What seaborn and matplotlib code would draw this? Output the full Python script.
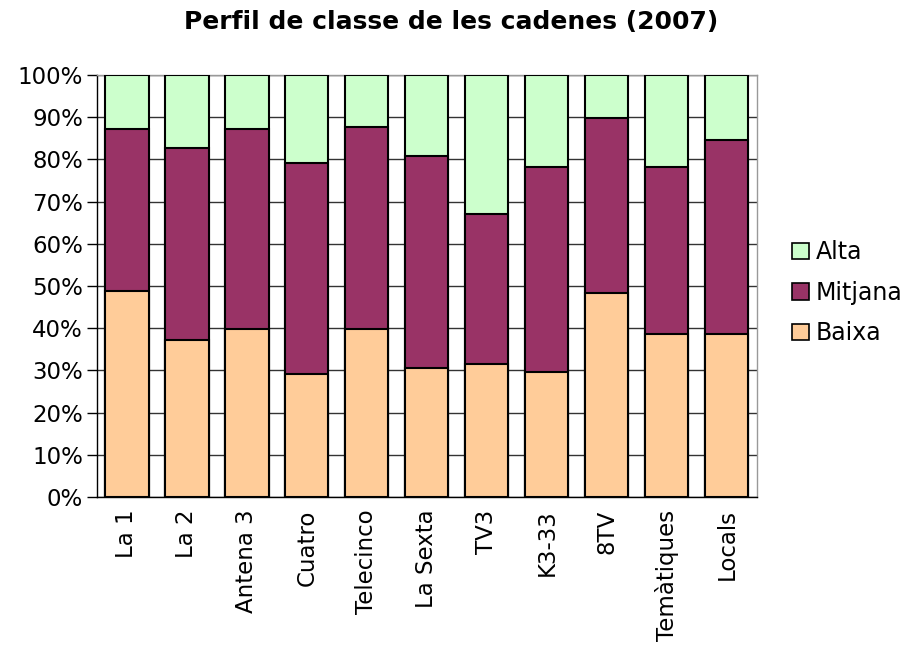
import pandas as pd
import seaborn as sns
import matplotlib.pyplot as plt
from matplotlib.patches import Patch

sns.set_style("white")
plt.rcParams["font.family"] = ["DejaVu Sans"]
plt.rcParams["text.color"] = "black"
plt.rcParams["xtick.color"] = "black"
plt.rcParams["ytick.color"] = "black"

# =========================
# Data (in %)
# =========================
cadenes = ["La 1", "La 2", "Antena 3", "Cuatro", "Telecinco", "La Sexta",
           "TV3", "K3-33", "8TV", "Temàtiques", "Locals"]
baixa = [48.8, 37.3, 39.9, 29.2, 39.9, 30.6, 31.4, 29.6, 48.4, 38.6, 38.6]
mitjana = [38.4, 45.4, 47.3, 49.9, 47.8, 50.3, 35.7, 48.7, 41.4, 39.7, 46.0]
alta = [100 - b - m for b, m in zip(baixa, mitjana)]

colors = {"Baixa": "#FFCC99", "Mitjana": "#993366", "Alta": "#CCFFCC"}

df = pd.DataFrame({"cadena": cadenes, "Baixa": baixa, "Mitjana": mitjana, "Alta": alta})
# cumulative tops, drawn from the top layer down so they stack
df["top_alta"] = df["Baixa"] + df["Mitjana"] + df["Alta"]
df["top_mitjana"] = df["Baixa"] + df["Mitjana"]
df["top_baixa"] = df["Baixa"]

fig = plt.figure(figsize=(9.02, 6.58), dpi=100)
ax = fig.add_axes([0.1075, 0.2447, 0.7315, 0.6413])

for col, name in [("top_alta", "Alta"), ("top_mitjana", "Mitjana"), ("top_baixa", "Baixa")]:
    sns.barplot(data=df, x="cadena", y=col, color=colors[name], width=0.72,
                edgecolor="black", linewidth=1.5, saturation=1, ax=ax, zorder=3)

ax.set_ylim(0, 100)
ax.set_xlim(-0.5, len(cadenes) - 0.5)
ax.set_yticks(range(0, 101, 10))
ax.set_yticklabels([f"{v}%" for v in range(0, 101, 10)], fontsize=16.5)
ax.set_xticklabels(cadenes, rotation=90, fontsize=16.5)
ax.set_xlabel("")
ax.set_ylabel("")

# gridlines and ticks
ax.yaxis.grid(True, color="#333333", linewidth=1)
ax.set_axisbelow(True)
ax.set_xticks([i - 0.5 for i in range(len(cadenes) + 1)], minor=True)
ax.tick_params(axis="x", which="major", length=0, pad=9)
ax.tick_params(axis="x", which="minor", length=7, width=1, color="black", direction="out")
ax.tick_params(axis="y", length=7, width=1, color="black", direction="out", left=True, pad=3)

for side in ["left", "bottom"]:
    ax.spines[side].set_color("black")
    ax.spines[side].set_linewidth(1)
for side in ["top", "right"]:
    ax.spines[side].set_color("#999999")
    ax.spines[side].set_linewidth(1)

fig.suptitle("Perfil de classe de les cadenes (2007)", fontsize=18, fontweight="bold",
             x=0.5, y=0.985)

handles = [Patch(facecolor=colors[n], edgecolor="black", linewidth=1.2, label=n)
           for n in ["Alta", "Mitjana", "Baixa"]]
fig.legend(handles=handles, loc="center left", bbox_to_anchor=(0.855, 0.555),
           frameon=False, fontsize=17, handlelength=0.7, handleheight=0.7,
           handletextpad=0.3, labelspacing=0.7)

fig.savefig("out.png", dpi=100)
